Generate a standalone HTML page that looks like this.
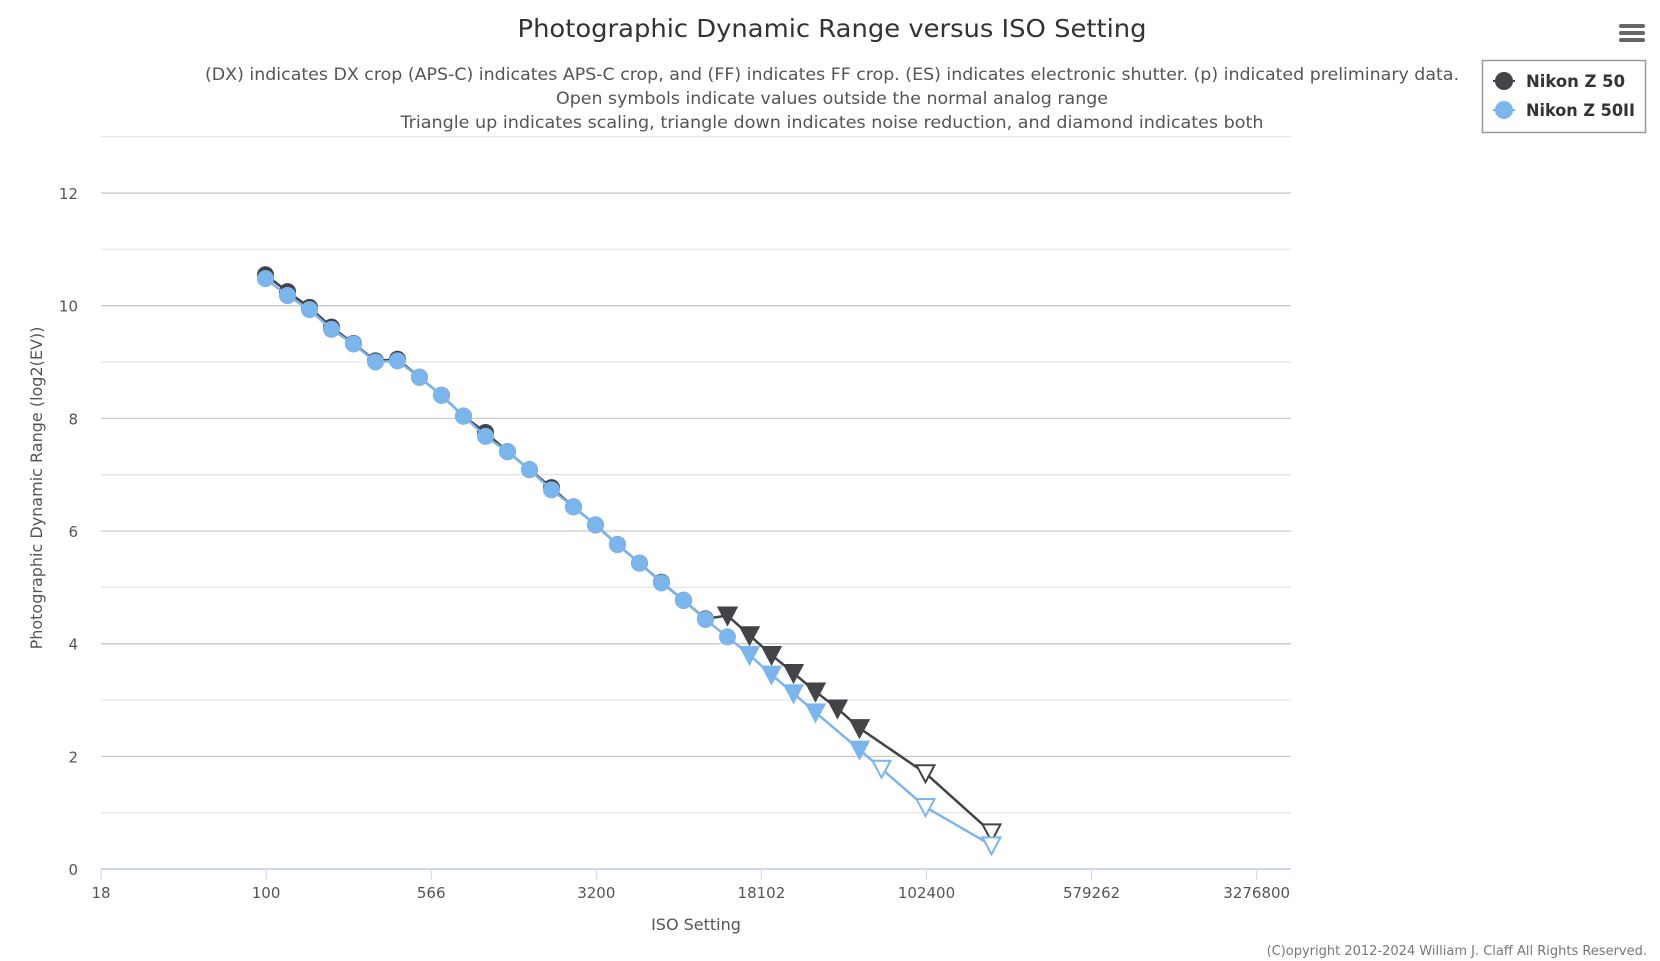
<!DOCTYPE html>
<html><head><meta charset="utf-8"><style>
html,body{margin:0;padding:0;background:#fff;}
svg{display:block;font-family:"DejaVu Sans","Liberation Sans",sans-serif;}
</style></head><body>
<svg id="s" width="1660" height="961" xmlns="http://www.w3.org/2000/svg">
<text x="832" y="37" text-anchor="middle" font-size="25" fill="#333" textLength="629" lengthAdjust="spacingAndGlyphs">Photographic Dynamic Range versus ISO Setting</text>
<text x="832" y="80" text-anchor="middle" font-size="17" fill="#555" textLength="1254" lengthAdjust="spacingAndGlyphs">(DX) indicates DX crop (APS-C) indicates APS-C crop, and (FF) indicates FF crop. (ES) indicates electronic shutter. (p) indicated preliminary data.</text>
<text x="832" y="104" text-anchor="middle" font-size="17" fill="#555" textLength="552" lengthAdjust="spacingAndGlyphs">Open symbols indicate values outside the normal analog range</text>
<text x="832" y="128" text-anchor="middle" font-size="17" fill="#555" textLength="863" lengthAdjust="spacingAndGlyphs">Triangle up indicates scaling, triangle down indicates noise reduction, and diamond indicates both</text>
<g fill="#666"><rect x="1619" y="24" width="26" height="4" rx="2"/><rect x="1619" y="31" width="26" height="4" rx="2"/><rect x="1619" y="38" width="26" height="4" rx="2"/></g>
<rect x="1482.5" y="60.5" width="163" height="72" fill="#fff" stroke="#999" stroke-width="1.5"/>
<line x1="1493" y1="81" x2="1515" y2="81" stroke="#434348" stroke-width="2"/><circle cx="1504" cy="81" r="9" fill="#434348"/>
<text x="1526" y="87" font-size="17" font-weight="bold" fill="#333" textLength="99" lengthAdjust="spacingAndGlyphs">Nikon Z 50</text>
<line x1="1493" y1="110" x2="1515" y2="110" stroke="#7cb5ec" stroke-width="2"/><circle cx="1504" cy="110" r="9" fill="#7cb5ec"/>
<text x="1526" y="116" font-size="17" font-weight="bold" fill="#333" textLength="109" lengthAdjust="spacingAndGlyphs">Nikon Z 50II</text>
<text transform="translate(42,488) rotate(-90)" text-anchor="middle" font-size="16" fill="#555">Photographic Dynamic Range (log2(EV))</text>
<text x="696" y="930" text-anchor="middle" font-size="16" fill="#555">ISO Setting</text>
<text x="1647" y="955" text-anchor="end" font-size="13" fill="#777">(C)opyright 2012-2024 William J. Claff All Rights Reserved.</text>
<g id="g"></g>
</svg>
<script>
var g=document.getElementById('g'),NS="http://www.w3.org/2000/svg";
function el(t,a,txt){var e=document.createElementNS(NS,t);for(var k in a)e.setAttribute(k,a[k]);if(txt!=null)e.textContent=txt;g.appendChild(e);return e;}
var X0=101,X1=1291,Y=function(v){return 869-v*56.33;};
for(var v=1;v<=13;v++){el('line',{x1:X0,x2:X1,y1:Y(v),y2:Y(v),stroke:v%2?'#e6e6e6':'#ccc','stroke-width':1.3});}
for(var v=2;v<=12;v+=2)el('text',{x:78,y:Y(v)+6,'text-anchor':'end','font-size':15,fill:'#555'},v);
el('text',{x:78,y:Y(0)+6,'text-anchor':'end','font-size':15,fill:'#555'},'0');
el('line',{x1:X0,x2:X1,y1:869,y2:869,stroke:'#ccd6eb','stroke-width':2});
var labs=['18','100','566','3200','18102','102400','579262','3276800'];
for(var i=0;i<8;i++){var x=X0+i*165.1;el('line',{x1:x,x2:x,y1:869,y2:880,stroke:'#ccd6eb','stroke-width':1});el('text',{x:x,y:898,'text-anchor':'middle','font-size':15,fill:'#555'},labs[i]);}
function px(k){return 265.5+k*22.0;}
var a=[[0,10.55,'c'],[1,10.25,'c'],[2,9.97,'c'],[3,9.62,'c'],[4,9.33,'c'],[5,9.02,'c'],[6,9.05,'c'],[7,8.73,'c'],[8,8.41,'c'],[9,8.04,'c'],[10,7.75,'c'],[11,7.41,'c'],[12,7.09,'c'],[13,6.77,'c'],[14,6.43,'c'],[15,6.11,'c'],[16,5.76,'c'],[17,5.43,'c'],[18,5.09,'c'],[19,4.77,'c'],[20,4.44,'c'],[21,4.5,'t'],[22,4.15,'t'],[23,3.8,'t'],[24,3.48,'t'],[25,3.15,'t'],[26,2.85,'t'],[27,2.5,'t'],[30,1.7,'o'],[33,0.65,'o']];
var b=[[0,10.48,'c'],[1,10.18,'c'],[2,9.93,'c'],[3,9.58,'c'],[4,9.32,'c'],[5,9.0,'c'],[6,9.02,'c'],[7,8.73,'c'],[8,8.41,'c'],[9,8.04,'c'],[10,7.68,'c'],[11,7.41,'c'],[12,7.09,'c'],[13,6.73,'c'],[14,6.43,'c'],[15,6.11,'c'],[16,5.76,'c'],[17,5.43,'c'],[18,5.08,'c'],[19,4.77,'c'],[20,4.43,'c'],[21,4.12,'c'],[22,3.8,'t'],[23,3.45,'t'],[24,3.12,'t'],[25,2.78,'t'],[27,2.12,'t'],[28,1.78,'o'],[30,1.1,'o'],[33,0.42,'o']];
function series(d,c){
 el('polyline',{points:d.map(function(p){return px(p[0])+','+Y(p[1]);}).join(' '),fill:'none',stroke:c,'stroke-width':2.5,'stroke-linejoin':'round'});
 d.forEach(function(p){var x=px(p[0]),y=Y(p[1]);
  if(p[2]=='c')el('circle',{cx:x,cy:y,r:8,fill:c,stroke:c,'stroke-width':1});
  else{var pts=(x-9)+','+(y-8)+' '+(x+9)+','+(y-8)+' '+x+','+(y+9);
   el('polygon',{points:pts,fill:p[2]=='t'?c:'#fff',stroke:c,'stroke-width':2});}
 });}
series(a,'#434348');series(b,'#7cb5ec');
</script>
</body></html>
